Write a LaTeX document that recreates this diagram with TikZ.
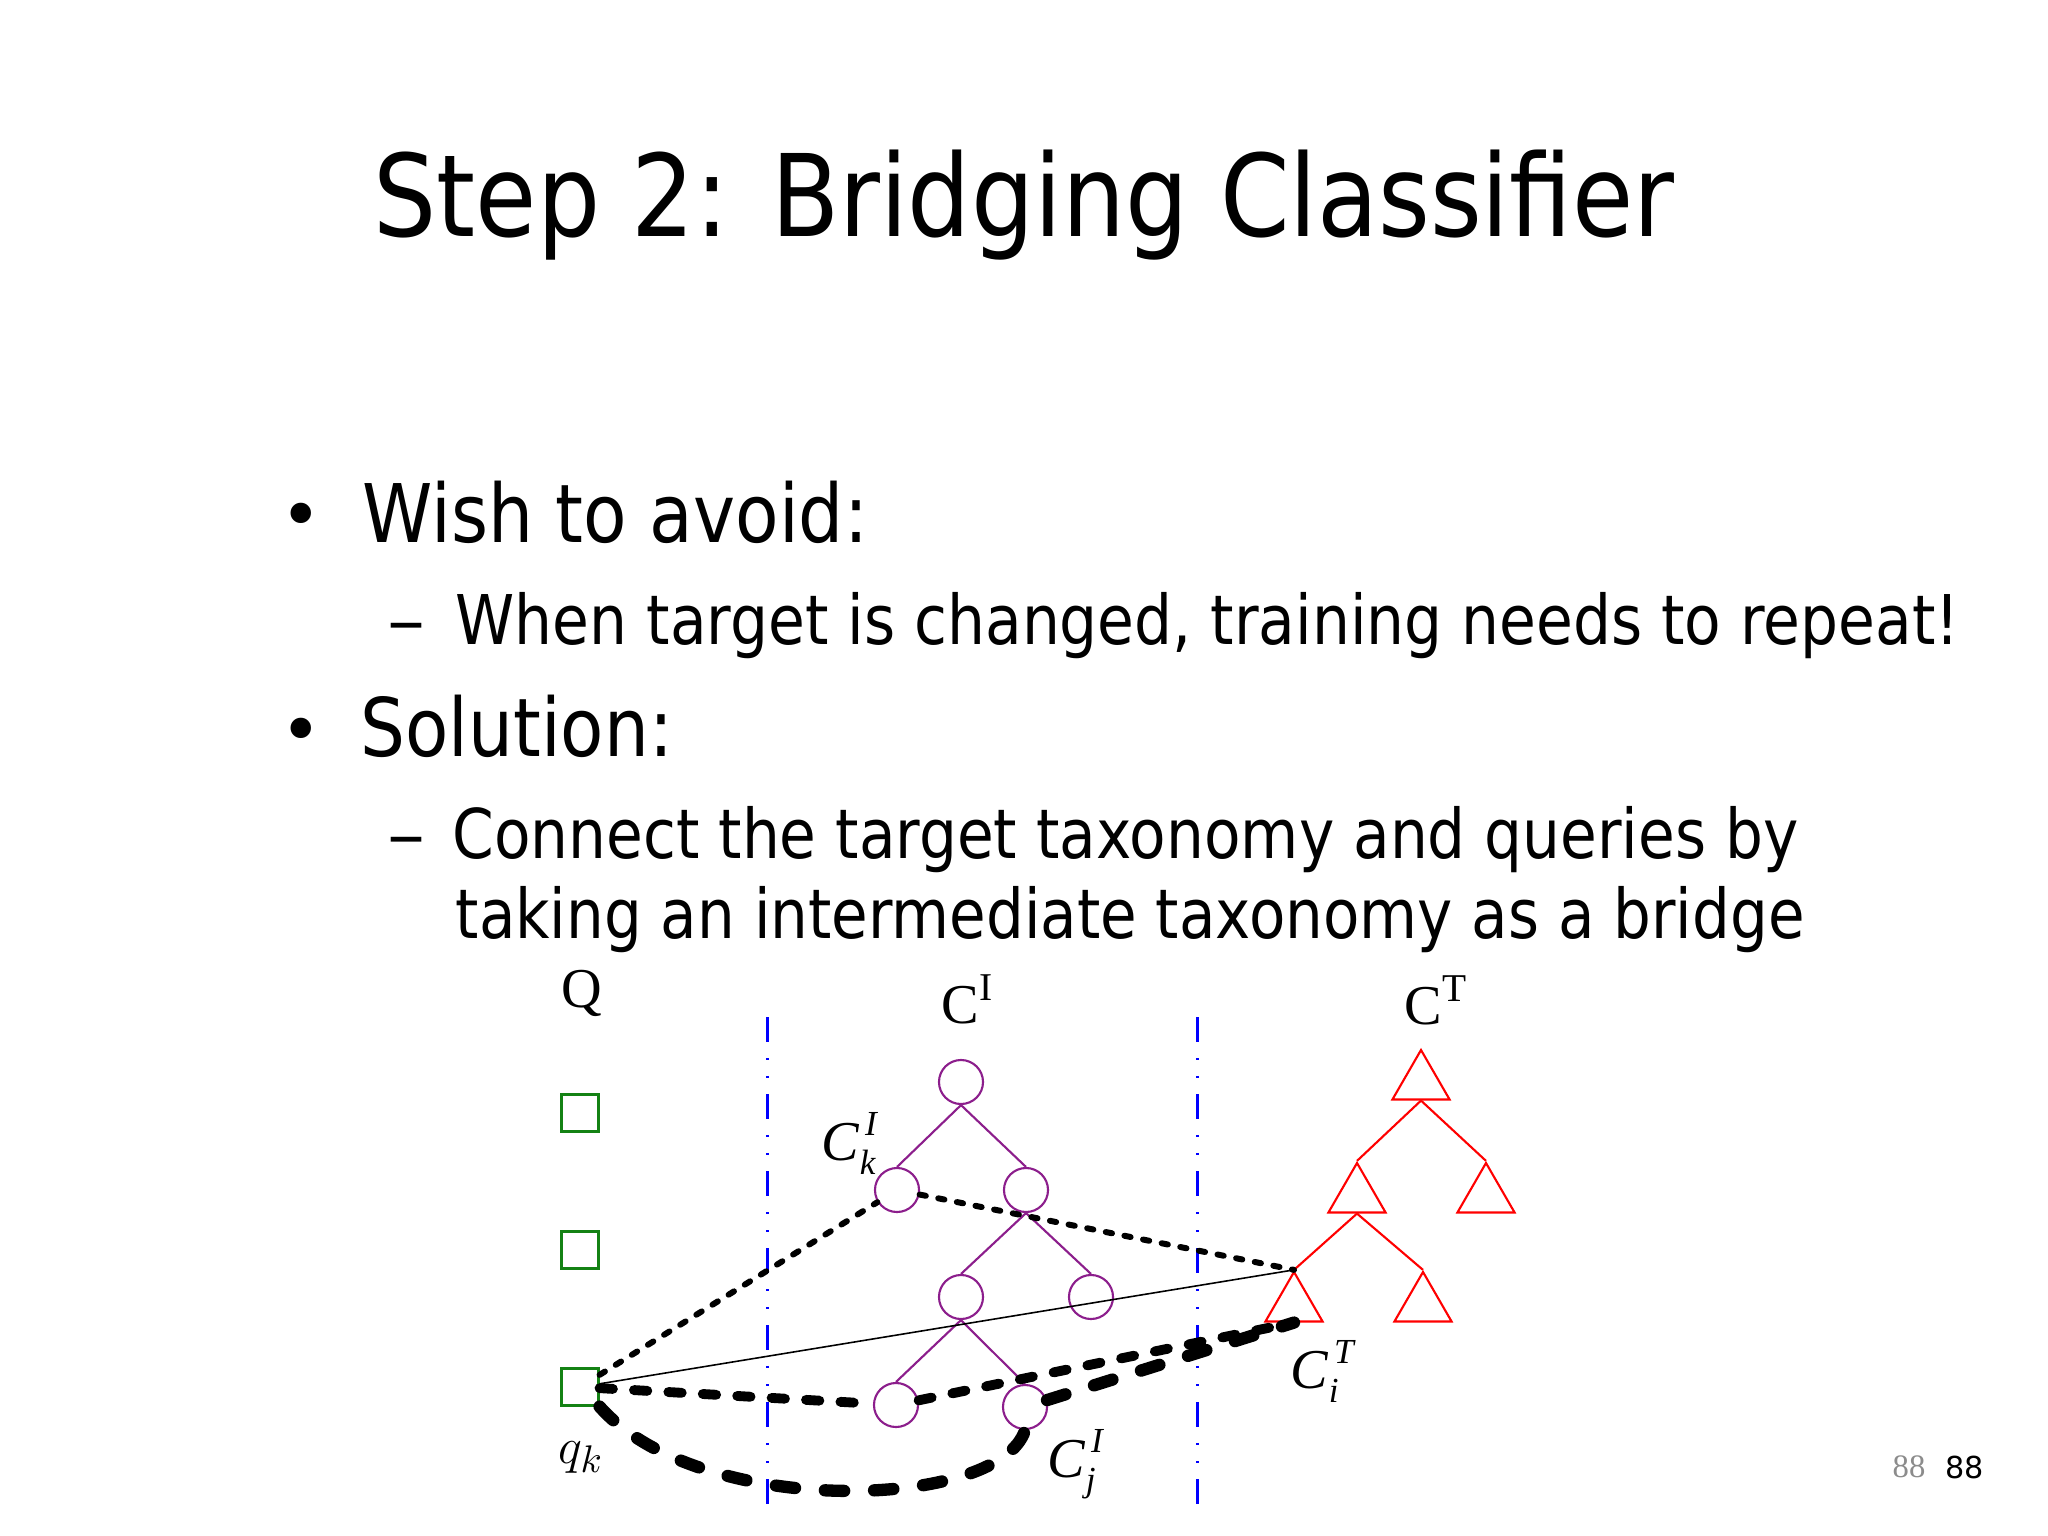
\documentclass[tikz,border=0pt]{standalone}
\usepackage{fontspec}
\usepackage{graphicx}
\usetikzlibrary{shapes.geometric,calc}
\newfontfamily\tah{DejaVu Sans}
\newfontfamily\tnr{Liberation Serif}
\definecolor{pur}{RGB}{140,30,140}
\definecolor{grn}{RGB}{20,130,20}
\definecolor{rd}{RGB}{255,0,0}
\definecolor{bl}{RGB}{0,0,255}
\definecolor{pg}{RGB}{140,140,140}
\newcommand\fitw[2]{\resizebox{#1}{\height}{#2}}
\newcommand\CSS[2]{\textit{C}\rlap{\kern1.5pt\raisebox{7pt}{\fontsize{10}{10}\selectfont\itshape #1}}\raisebox{-4pt}{\fontsize{10}{10}\selectfont\itshape #2}}
\begin{document}
\begin{tikzpicture}[x=0.01cm,y=-0.01cm,
  circ/.style={circle,draw=pur,line width=0.6pt,minimum size=0.44cm,inner sep=0pt},
  tri/.style={regular polygon,regular polygon sides=3,draw=rd,line width=0.6pt,minimum size=0.66cm,inner sep=0pt},
  sq/.style={rectangle,draw=grn,line width=0.6pt,minimum size=0.37cm,inner sep=0pt},
  pedge/.style={draw=pur,line width=0.6pt},
  redge/.style={draw=rd,line width=0.6pt},
  divider/.style={draw=bl,line width=0.85pt,dash pattern=on 7.1pt off 4.6pt on 0.5pt off 4.6pt on 0.5pt off 4.6pt},
  dotc/.style={line width=1.7pt,line cap=round,dash pattern=on 1.8pt off 3.6pt},
  medc/.style={line width=2.8pt,line cap=round,dash pattern=on 3.8pt off 6.0pt},
  thkc/.style={line width=3.5pt,line cap=round,dash pattern=on 5.5pt off 8.5pt},
  thinc/.style={line width=0.45pt},
  lbl/.style={inner sep=0pt,anchor=base west,font=\tnr\fontsize{16}{16}\selectfont},
  txt/.style={inner sep=0pt,anchor=base west}
]
\useasboundingbox (0,0) rectangle (2048,1536);
\fill[white] (0,0) rectangle (2048,1536);

% ---- text ----
\node[txt,font=\tah\fontsize{32.4}{36}\selectfont] (title) at (373,236) {\fitw{13.00cm}{Step 2: Bridging Classifier}};
\node[txt,font=\tah\fontsize{20}{20}\selectfont] (b1) at (280,539) {•};
\node[txt,font=\tah\fontsize{23}{26}\selectfont] (l1) at (362,542) {\fitw{5.05cm}{Wish to avoid:}};
\node[txt,font=\tah\fontsize{19.5}{22}\selectfont] (d1) at (387,644) {\fitw{0.38cm}{–}};
\node[txt,font=\tah\fontsize{19.5}{22}\selectfont] (l2) at (455,644) {\fitw{15.03cm}{When target is changed, training needs to repeat!}};
\node[txt,font=\tah\fontsize{20}{20}\selectfont] (b2) at (280,754) {•};
\node[txt,font=\tah\fontsize{23}{26}\selectfont] (l3) at (360,756) {\fitw{3.12cm}{Solution:}};
\node[txt,font=\tah\fontsize{19.5}{22}\selectfont] (d2) at (387,858) {\fitw{0.38cm}{–}};
\node[txt,font=\tah\fontsize{19.5}{22}\selectfont] (l4) at (452,858) {\fitw{13.45cm}{Connect the target taxonomy and queries by}};
\node[txt,font=\tah\fontsize{19.5}{22}\selectfont] (l5) at (455,938) {\fitw{13.48cm}{taking an intermediate taxonomy as a bridge}};
\node[txt,font=\tnr\fontsize{9.3}{10}\selectfont,text=pg] (pg1) at (1892,1477) {88};
\node[txt,font=\tah\fontsize{8.6}{10}\selectfont] (pg2) at (1945,1478) {88};

% ---- dividers ----
\coordinate (v1a) at (767,1017); \coordinate (v1b) at (767,1513);
\coordinate (v2a) at (1197,1017); \coordinate (v2b) at (1197,1515);
\draw[divider] (v1a) -- (v1b);
\draw[divider] (v2a) -- (v2b);

% ---- labels ----
\node[lbl] (Q) at (561,1007) {Q};
\node[lbl] (CI) at (941,1023) {C\textsuperscript{I}};
\node[lbl] (CT) at (1404,1024) {C\textsuperscript{T}};
\node[lbl] (Ck) at (821,1160) {\CSS{I}{k}};
\node[lbl] (Ci) at (1290,1388) {\CSS{T}{i}};
\node[lbl] (Cj) at (1047,1477) {\CSS{I}{j}};
\node[inner sep=0pt,anchor=base west,font=\fontsize{15}{15}\selectfont] (qkl) at (558,1463) {$q_k$};

% ---- queries ----
\node[sq] (s1) at (580,1113) {};
\node[sq] (s2) at (580,1250) {};
\node[sq] (qk) at (580,1387) {};

% ---- intermediate taxonomy ----
\node[circ] (r) at (961,1082) {};
\node[circ] (a) at (897,1190) {};
\node[circ] (b) at (1026,1190) {};
\node[circ] (c) at (961,1297) {};
\node[circ] (d) at (1091,1297) {};
\node[circ] (e) at (896,1405) {};
\node[circ] (f) at (1025,1407) {};
\draw[pedge] (r.south) -- (a.north);
\draw[pedge] (r.south) -- (b.north);
\draw[pedge] (b.south) -- (c.north);
\draw[pedge] (b.south) -- (d.north);
\draw[pedge] (c.south) -- (e.north);
\draw[pedge] (c.south) -- (f.north);

% ---- target taxonomy ----
\node[tri] (t0) at (1421,1083) {};
\node[tri] (t1) at (1357,1196) {};
\node[tri] (t2) at (1486,1196) {};
\node[tri] (t3) at (1294,1305) {};
\node[tri] (t4) at (1423,1305) {};
\draw[redge] (t0.side 2) -- (t1.corner 1);
\draw[redge] (t0.side 2) -- (t2.corner 1);
\draw[redge] (t1.side 2) -- (t3.corner 1);
\draw[redge] (t1.side 2) -- (t4.corner 1);

% ---- connectors ----
\draw[thinc] (qk) -- (t3.corner 1);
\draw[dotc] (qk) -- (a);
\draw[dotc] (a) -- (t3.corner 1);
\draw[medc] (qk) -- (e);
\draw[medc] (e) -- (t3.side 2);
\draw[thkc] (qk.south east) .. controls (700,1520) and (1000,1510) .. (f.south);
\draw[thkc] (f) -- (t3.side 2);
\end{tikzpicture}
\end{document}
